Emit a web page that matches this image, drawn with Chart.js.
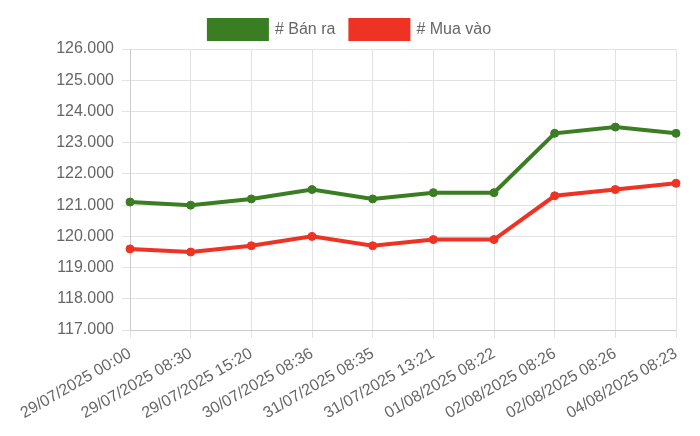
<!DOCTYPE html>
<html>
<head>
<meta charset="utf-8">
<script src="https://cdn.jsdelivr.net/npm/chart.js@4/dist/chart.umd.min.js"></script>
<style>
  html, body { margin: 0; padding: 0; background: #fff; }
  #wrap { width: 700px; height: 436px; }
</style>
</head>
<body>
<div id="wrap"><canvas id="chart"></canvas></div>
<script>
var labels = ['29/07/2025 00:00', '29/07/2025 08:30', '29/07/2025 15:20', '30/07/2025 08:36', '31/07/2025 08:35',
  '31/07/2025 13:21', '01/08/2025 08:22', '02/08/2025 08:26', '02/08/2025 08:26', '04/08/2025 08:23'];
var banRa = [121100, 121000, 121200, 121500, 121200, 121400, 121400, 123300, 123500, 123300];
var muaVao = [119600, 119500, 119700, 120000, 119700, 119900, 119900, 121300, 121500, 121700];

Chart.defaults.font.family = '"Liberation Sans", Arial, sans-serif';
Chart.defaults.font.size = 16;
Chart.defaults.color = '#666';

new Chart(document.getElementById('chart'), {
  type: 'line',
  data: {
    labels: labels,
    datasets: [
      { label: '# Bán ra', data: banRa, borderColor: '#3a7d22', backgroundColor: '#3a7d22', borderWidth: 4, pointRadius: 4, pointBorderWidth: 1, pointHoverRadius: 5, tension: 0 },
      { label: '# Mua vào', data: muaVao, borderColor: '#ee3224', backgroundColor: '#ee3224', borderWidth: 4, pointRadius: 4, pointBorderWidth: 1, pointHoverRadius: 5, tension: 0 }
    ]
  },
  options: {
    responsive: true, maintainAspectRatio: false, animation: false,
    layout: { padding: { right: 0, left: 0, top: 5, bottom: 7 } },
    plugins: {
      legend: { labels: { boxWidth: 58, boxHeight: 19, padding: 15, color: '#666', font: { size: 16 } } },
      tooltip: { enabled: false }
    },
    scales: {
      x: {
        ticks: { maxRotation: 30, minRotation: 30, padding: 6, color: '#666' },
        grid: { color: '#e2e2e2' },
        afterFit: function(s) { s.paddingRight = 24; }
      },
      y: {
        min: 117000, max: 126000,
        ticks: { stepSize: 1000, padding: 8, color: '#666', callback: function(v) { return v.toLocaleString('vi-VN'); } },
        grid: { color: '#e2e2e2' },
        afterFit: function(s) { s.width = 130; }
      }
    }
  }
});
</script>
</body>
</html>
